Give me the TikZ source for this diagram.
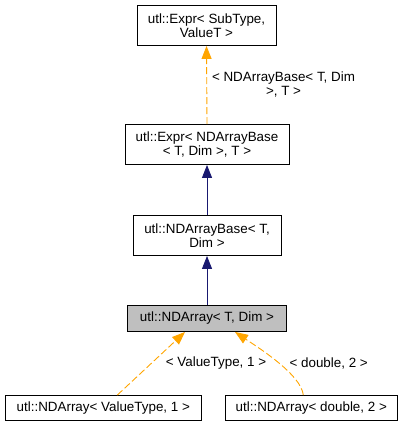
\documentclass[tikz,border=0pt]{standalone}
\usepackage{fontspec}
\setmainfont{Liberation Sans}
\usetikzlibrary{arrows.meta}
\definecolor{edgeorange}{HTML}{FFA500}
\definecolor{edgenavy}{HTML}{191970}
\definecolor{focusgray}{HTML}{BFBFBF}
\tikzset{
  classbox/.style={draw=black, line width=0.9pt, fill=white, align=center,
    inner sep=0pt, font=\fontsize{13.4}{14.5}\selectfont},
  edgelabel/.style={align=center, inner sep=0pt, font=\fontsize{13.4}{14.5}\selectfont},
  inherit/.style={draw=edgenavy, line width=0.9pt,
    -{Triangle[length=13pt,width=10pt]}, fill=edgenavy},
  templ/.style={draw=edgeorange, line width=0.9pt, dash pattern=on 7pt off 3pt,
    -{Triangle[length=13pt,width=10pt,fill=edgeorange]}},
}
\begin{document}
\begin{tikzpicture}[x=1pt,y=-1pt]
  \useasboundingbox (0,0) rectangle (403,427);
  % Class boxes
  \node[classbox, minimum width=139pt, minimum height=40pt] (exprsub) at (206.5,25.5)
    {utl::Expr< SubType,\\ValueT >};
  \node[classbox, minimum width=164pt, minimum height=40pt] (exprbase) at (207,144.5)
    {utl::Expr< NDArrayBase\\< T, Dim >, T >};
  \node[classbox, minimum width=148pt, minimum height=40pt] (arraybase) at (207,235.5)
    {utl::NDArrayBase< T,\\Dim >};
  \node[classbox, fill=focusgray, minimum width=159pt, minimum height=26pt] (ndarray) at (207,318.5)
    {utl::NDArray< T, Dim >};
  \node[classbox, minimum width=196pt, minimum height=25pt] (arrayvalue) at (103.3,408)
    {utl::NDArray< ValueType, 1 >};
  \node[classbox, minimum width=172pt, minimum height=25pt] (arraydouble) at (311.3,408)
    {utl::NDArray< double, 2 >};
  % Edge labels
  \node[edgelabel] (lblbase) at (283.5,84.5) {< NDArrayBase< T, Dim\\>, T >};
  \node[edgelabel] (lblvalue) at (216,363) {< ValueType, 1 >};
  \node[edgelabel] (lbldouble) at (328.7,363) {< double, 2 >};
  % Inheritance
  \draw[inherit] (arraybase.north) -- (exprbase.south);
  \draw[inherit] (ndarray.north) -- (arraybase.south);
  % Template instances
  \draw[templ] (exprbase.north) -- (exprsub.south);
  \draw[templ] ([xshift=14pt]arrayvalue.north) -- ([xshift=-22pt]ndarray.south);
  \draw[templ] ([xshift=-8pt]arraydouble.north)
    .. controls (301,375) and (262,350) .. ([xshift=28pt]ndarray.south);
\end{tikzpicture}
\end{document}
